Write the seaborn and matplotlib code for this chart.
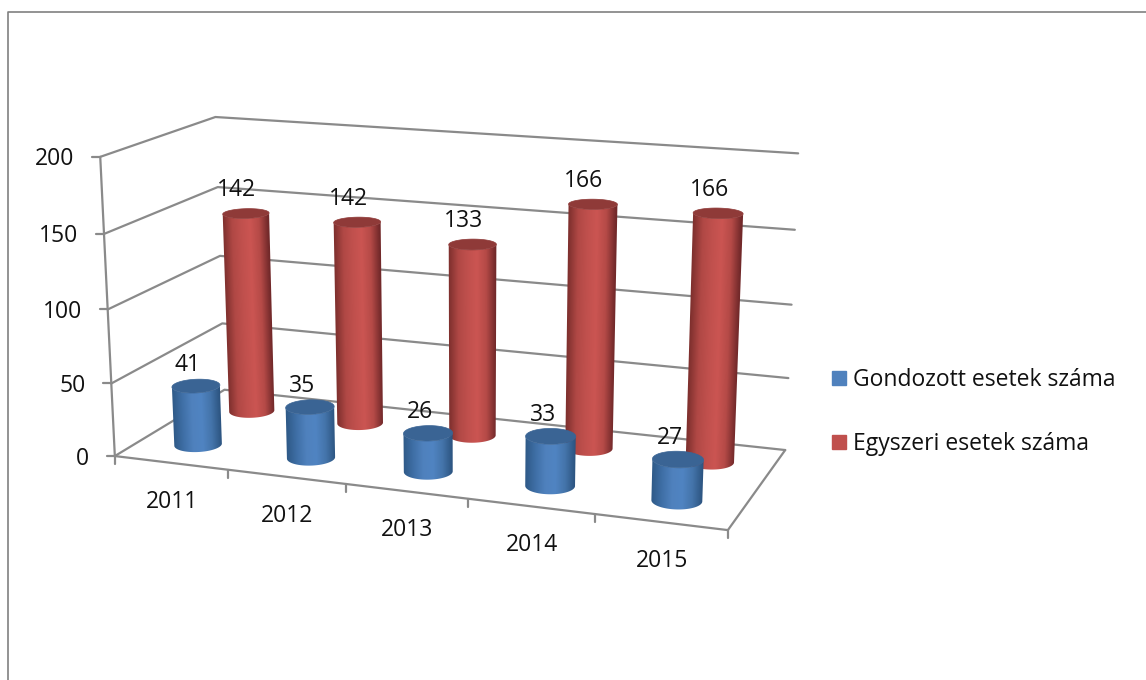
import matplotlib
matplotlib.use('Agg')
import matplotlib.pyplot as plt
from matplotlib.patches import Patch, Polygon
from matplotlib.transforms import Affine2D
import seaborn as sns
import numpy as np
import pandas as pd

# data
years = ['2011', '2012', '2013', '2014', '2015']
gondozott = [41, 35, 26, 33, 27]
egyszeri = [142, 142, 133, 166, 166]
y_ticks = [0, 50, 100, 150, 200]
series_names = ['Gondozott esetek száma', 'Egyszeri esetek száma']

# camera: world (category, depth, value) -> picture pixels, fitted on the box corners
world_pts = [(0, 0, 0), (0, 0, 200), (0, 1, 200), (0, 1, 150), (0, 1, 100), (0, 1, 50), (0, 1, 0),
             (5, 1, 200), (5, 1, 150), (5, 1, 100), (5, 1, 50), (5, 1, 0), (5, 0, 0)]
pixel_pts = [(114, 456), (101, 157), (215, 117), (217, 187), (220, 256), (223, 323), (225, 390),
             (798, 153), (795, 230), (792, 305), (788, 378), (785, 450), (728, 530)]


def fit_camera(world, pixels):
    rows, rhs = [], []
    for (x, y, z), (u, v) in zip(world, pixels):
        rows.append([x, y, z, 1, 0, 0, 0, 0, -u * x, -u * y, -u * z])
        rows.append([0, 0, 0, 0, x, y, z, 1, -v * x, -v * y, -v * z])
        rhs += [u, v]
    p = np.linalg.lstsq(np.array(rows, float), np.array(rhs, float), rcond=None)[0]
    return np.append(p, 1.0).reshape(3, 4)


cam = fit_camera(world_pts, pixel_pts)


def project(x, y, z):
    x, y, z = np.broadcast_arrays(x, y, z)
    w = cam @ np.stack([x, y, z, np.ones_like(x)], dtype=float)
    return w[0] / w[2], w[1] / w[2]


sns.set_theme(style='white')
plt.rcParams['font.family'] = ['Open Sans', 'DejaVu Sans']
FS = 16.5
GRAY = '#8a8a8a'

fig = plt.figure(figsize=(11.46, 6.8), dpi=100)
ax = fig.add_axes([0, 0, 1, 1])

# box lines
lines = []


def add_line(name, xs, ys):
    for a, b in zip(xs, ys):
        lines.append({'line': name, 'px': a, 'py': b})


for v in y_ticks:
    px, py = project([0, 0, 5], [0, 1, 1], v)
    add_line(f'grid{v}', px, py)
    tx, ty = project(0, 0, v)
    add_line(f'tick{v}', [tx - 8, tx], [ty, ty])
    ax.text(tx - 26, ty + 2.5, str(v), ha='right', va='center', fontsize=FS, color='#111111')

px, py = project([0, 0], [0, 0], [0, 200])
add_line('axis', px, py)
px, py = project([0, 5, 5], [0, 0, 1], 0)
add_line('floor', px, py)
for i in range(len(years) + 1):
    tx, ty = project(i, 0, 0)
    add_line(f'xtick{i}', [tx, tx], [ty, ty + 8])

sns.lineplot(data=pd.DataFrame(lines), x='px', y='py', units='line', estimator=None, sort=False,
             color=GRAY, linewidth=1.6, legend=False, ax=ax, zorder=2)

# picture frame, open to the right and bottom
ax.plot([8, 8, 1146], [680, 12, 12], color='#808080', lw=1.2, zorder=1)

blue_cmap = sns.blend_palette(['#2f5a88', '#3f6fa6', '#4f81bd', '#5084c2', '#4474aa', '#2c5480'], as_cmap=True)
red_cmap = sns.blend_palette(['#7f302e', '#b04845', '#c0504d', '#cb5552', '#b54a47', '#72292a'], as_cmap=True)
RX, RD = 0.19, 0.10
shade = np.clip(np.linspace(-0.2, 1.2, 128), 0, 1)[None, :]


def draw_cylinder(cat, depth, value, cmap, top_color, z):
    t = np.linspace(0, 2 * np.pi, 360, endpoint=False)
    cx = cat + RX * np.cos(t)
    cd = depth + RD * np.sin(t)
    tx, ty = project(cx, cd, value)
    bx, by = project(cx, cd, 0)

    # visible arc: from the leftmost point on screen, under the front, to the rightmost
    left, right = np.argmin(bx), np.argmax(bx)
    arc = (left + np.arange((right - left) % len(t) + 1)) % len(t)
    outline = np.c_[np.r_[bx[arc], tx[arc][::-1]], np.r_[by[arc], ty[arc][::-1]]]

    # gradient sheared along the cylinder's lean, clipped to its outline
    lean = Affine2D(np.array([[bx[right] - bx[left], tx[left] - bx[left], bx[left]],
                              [by[right] - by[left], ty[left] - by[left], by[left]],
                              [0, 0, 1]], float))
    im = ax.imshow(shade, extent=(-0.2, 1.2, -1, 2), aspect='auto', cmap=cmap, vmin=0, vmax=1,
                   interpolation='bilinear', zorder=z)
    im.set_transform(lean + ax.transData)
    im.set_clip_path(Polygon(outline, transform=ax.transData))

    ax.fill(tx, ty, color=top_color, lw=0.5, zorder=z + 0.1)
    return project(cat, depth, value)


# back row first so the front row covers it
z = 3.0
for i, v in enumerate(egyszeri):
    lx, ly = draw_cylinder(i + 0.5, 0.75, v, red_cmap, '#8f3a38', z)
    ax.text(lx - 9, ly - 23, str(v), ha='center', va='center', fontsize=FS, color='#111111', zorder=9)
    z += 0.2
for i, v in enumerate(gondozott):
    lx, ly = draw_cylinder(i + 0.49, 0.25, v, blue_cmap, '#3a6494', z)
    ax.text(lx - 8, ly - 21, str(v), ha='center', va='center', fontsize=FS, color='#111111', zorder=9)
    z += 0.2

for i, name in enumerate(years):
    tx, ty = project(i + 0.5, 0, 0)
    ax.text(tx + 1, ty + 39, name, ha='center', va='center', fontsize=FS, color='#111111')

handles = [Patch(color='#4f81bd', label=series_names[0]), Patch(color='#c0504d', label=series_names[1])]
ax.legend(handles=handles, loc='center left', bbox_to_anchor=(811.5 / 1146, 1 - 412 / 680), frameon=False,
          fontsize=FS, handlelength=0.6, handleheight=0.6, handletextpad=0.3, labelspacing=1.75,
          labelcolor='#111111')

ax.set_xlim(0, 1146)
ax.set_ylim(680, 0)
ax.axis('off')
fig.savefig('out.png', dpi=100, facecolor='white')
